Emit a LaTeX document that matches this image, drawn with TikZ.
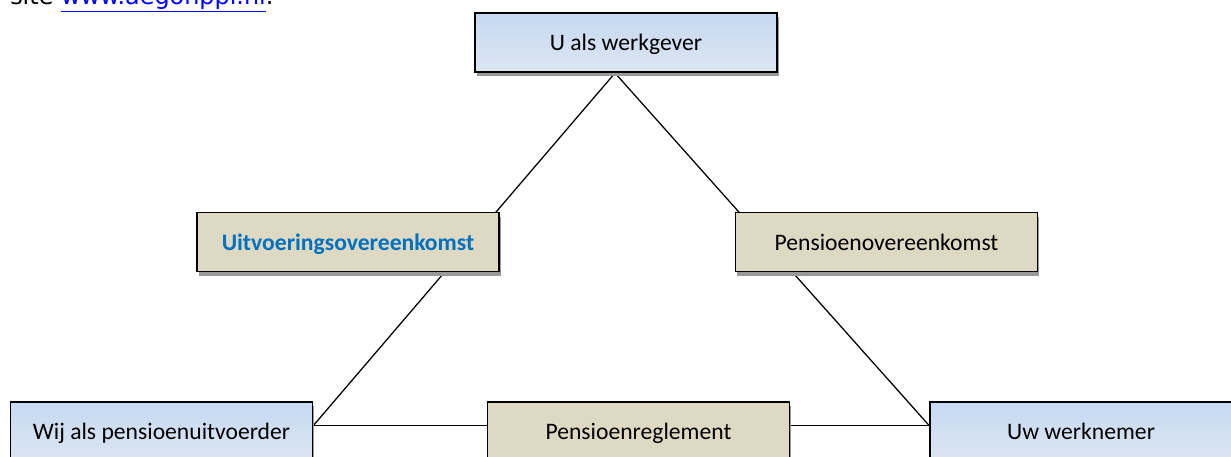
\documentclass[tikz,border=0pt]{standalone}
\usepackage{fontspec}
\setmainfont{Carlito}
\newfontfamily\linkfont{DejaVu Sans}
\usetikzlibrary{shadows,backgrounds}
\definecolor{boxblue}{HTML}{C6D9F1}
\definecolor{boxblueb}{HTML}{DCE6F2}
\definecolor{boxtan}{HTML}{DDD9C3}
\definecolor{titleblue}{HTML}{0070C0}
\begin{document}
\begin{tikzpicture}[x=0.025cm, y=-0.025cm,
  party/.style={draw, line width=1.2pt, minimum width=7.55cm, minimum height=1.475cm,
    text depth=0pt, top color=boxblue, bottom color=boxblueb,
    drop shadow={shadow xshift=0.04cm, shadow yshift=-0.1cm, fill=black!40, opacity=1},
    font=\fontsize{16.8}{20}\selectfont},
  deal/.style={party, top color=boxtan, bottom color=boxtan},
  link/.style={line width=0.9pt}]
\useasboundingbox (0,0) rectangle (1231,456);
\node[anchor=base west, inner sep=0pt, font=\linkfont\fontsize{17}{20}\selectfont] (site) at (10,4)
  {site \textcolor{blue}{\underline{www.aegonppi.nl}}.};
\node[party] (wg) at (626,42.5){U als werkgever};
\node[deal, text=titleblue, font=\fontsize{16.8}{20}\selectfont\bfseries] (uo) at (348,242){Uitvoeringsovereenkomst};
\node[deal] (po) at (886.5,242){Pensioenovereenkomst};
\node[party] (pu) at (161.5,431.5){Wij als pensioenuitvoerder};
\node[deal] (pr) at (638.5,431.5){Pensioenreglement};
\node[party] (wn) at (1081,431.5){Uw werknemer};
\coordinate (apex) at (615,73);
\coordinate (base) at (0,425.5);
\begin{scope}[on background layer]
\fill[white] (0,0) rectangle (1231,456);
\draw[link](apex) -- (pu.east |- base);
\draw[link](apex) -- (wn.west |- base);
\draw[link](pu.east |- base) -- (wn.west |- base);
\end{scope}
\end{tikzpicture}
\end{document}
